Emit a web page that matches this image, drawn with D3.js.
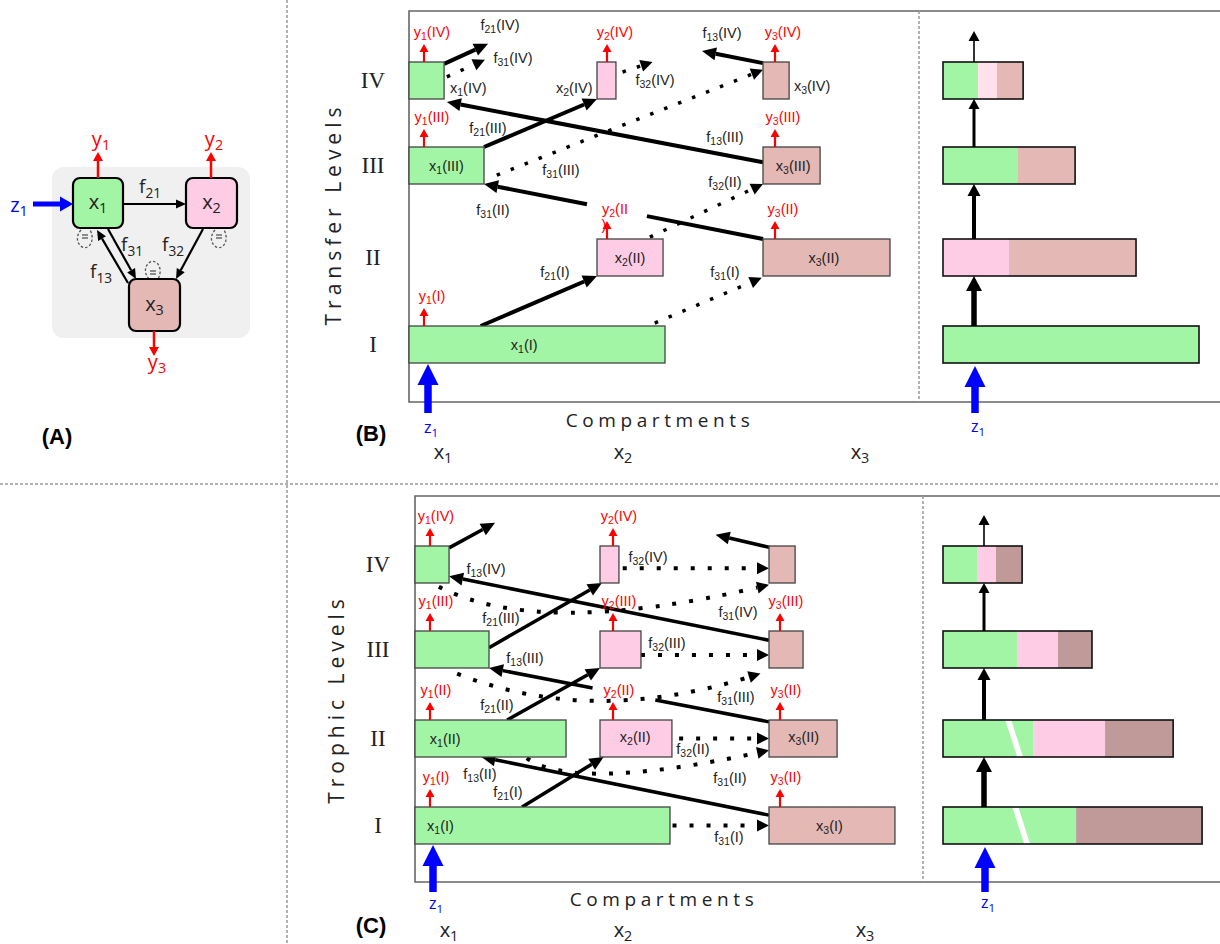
<!DOCTYPE html>
<html><head><meta charset="utf-8">
<script src="https://cdn.jsdelivr.net/npm/d3@7"></script>
<style>body{margin:0;background:#fff}svg{display:block}</style>
</head><body>
<script>
// ================= DATA =================
const levels = ["I", "II", "III", "IV"];
const compartments = ["x1", "x2", "x3"];
const compartmentTicks = ["x1", "x2", "x3"];

// Panel B – transfer levels: compartment sizes per level (relative units, x1(I) = 100)
const transferX1 = [100, null, 29.3, 13.7];
const transferX2 = [null, 25.8, null, 7.4];
const transferX3 = [null, 49.6, 22.3, 10.2];

// Panel C – trophic levels
const trophicX1 = [99.6, 59, 28.9, 13.3];
const trophicX2 = [null, 28.1, 16, 7.4];
const trophicX3 = [49.2, 26.6, 13.3, 10.2];
// width of the (truncated) x1 segment as drawn in the stacked trophic bars
const trophicX1Shown = [52, 35.2, null, null];

// flows
const transferFlowLabels = ["f21(I)", "f31(I)", "f21(III)", "f31(III)", "f13(III)", "f31(II)", "f32(II)", "f21(IV)", "f31(IV)", "f13(IV)", "f32(IV)"];
const transferFlowDotted = [false, true, false, true, false, false, true, false, true, false, true];
const trophicFlowLabels = ["", "f32(IV)", "", "f13(IV)", "f31(IV)", "f21(III)", "f32(III)", "f13(III)", "f31(III)", "f21(II)", "f32(II)", "f31(II)", "f13(II)", "f21(I)", "f31(I)"];
const trophicFlowDotted = [false, true, false, false, true, false, true, false, true, false, true, true, false, false, true];

// outflows [compartment, level, label]
const transferOutflows = [["x1", "I", "y1(I)"], ["x2", "II", "y2(II\n)"], ["x3", "II", "y3(II)"], ["x1", "III", "y1(III)"], ["x3", "III", "y3(III)"], ["x1", "IV", "y1(IV)"], ["x2", "IV", "y2(IV)"], ["x3", "IV", "y3(IV)"]];
const trophicOutflows = [["x1", "I", "y1(I)"], ["x3", "I", "y3(II)"], ["x1", "II", "y1(II)"], ["x2", "II", "y2(II)"], ["x3", "II", "y3(II)"], ["x1", "III", "y1(III)"], ["x2", "III", "y2(III)"], ["x3", "III", "y3(III)"], ["x1", "IV", "y1(IV)"], ["x2", "IV", "y2(IV)"]];

// Panel A
const panelANodes = ["x1", "x2", "x3"];
const panelAFlows = [["x1", "x2", "f21"], ["x1", "x3", "f31"], ["x3", "x1", "f13"], ["x2", "x3", "f32"]];
const panelAOutputs = ["y1", "y2", "y3"];
const panelAInput = "z1";

// ================= STYLE / LAYOUT =================
const GREEN = "#a2f5a4", PINK = "#ffcce6", ROSY = "#e3b8b5", BROWN = "#c09a98", LPINK = "#ffe1ec";
const RED = "#ff0000", BLUE = "#0000ff";
const compColor = d3.scaleOrdinal().domain(compartments).range([GREEN, PINK, ROSY]);
const W = d3.scaleLinear().domain([0, 100]).range([0, 256]);
const BOXH = 37;
const LABFONT = "'Liberation Sans Narrow','Arial Narrow','Liberation Sans',Arial,sans-serif";
const SANS = "'Open Sans','DejaVu Sans',sans-serif";

const svg = d3.select("body").append("svg").attr("width", 1220).attr("height", 944);

function rich(g, x, y, str, o = {}) {
  const fs = o.size || 14;
  const t = g.append("text").attr("x", x).attr("y", y)
    .attr("text-anchor", o.anchor || "middle").attr("dominant-baseline", "central")
    .attr("font-size", fs).attr("font-family", o.font || LABFONT).attr("fill", o.color || "#222");
  if (o.weight) t.attr("font-weight", o.weight);
  const m = str.match(/^([a-zA-Z])(\d+)(.*)$/);
  if (!m) { t.text(str); return t; }
  t.append("tspan").text(m[1]);
  t.append("tspan").attr("font-size", fs * 0.72).attr("dy", fs * 0.3).text(m[2]);
  if (m[3]) t.append("tspan").attr("dy", -fs * 0.3).text(m[3]);
  return t;
}

function arrow(g, x1, y1, x2, y2, o = {}) {
  const w = o.w || 2, hl = o.hl || 10, hw = o.hw || 10, color = o.color || "#000";
  const dx = x2 - x1, dy = y2 - y1, L = Math.hypot(dx, dy), ux = dx / L, uy = dy / L;
  const bx = x2 - ux * hl, by = y2 - uy * hl;
  const segs = o.gap ? [[0, o.gap[0]], [o.gap[1], 1]] : [[0, 1]];
  segs.forEach(([a, b]) => {
    const ex = b === 1 ? bx : x1 + dx * b, ey = b === 1 ? by : y1 + dy * b;
    const ln = g.append("line").attr("x1", x1 + dx * a).attr("y1", y1 + dy * a).attr("x2", ex).attr("y2", ey)
      .attr("stroke", color).attr("stroke-width", w);
    if (o.dash) ln.attr("stroke-dasharray", o.dash);
  });
  g.append("polygon").attr("points", [[x2, y2], [bx - uy * hw / 2, by + ux * hw / 2], [bx + uy * hw / 2, by - ux * hw / 2]].map(p => p.join(",")).join(" "))
    .attr("fill", color);
}

function curveArrow(g, s, m, e, o = {}) {
  const c = [2 * m[0] - (s[0] + e[0]) / 2, 2 * m[1] - (s[1] + e[1]) / 2];
  const hl = o.hl || 12, hw = o.hw || 12;
  const tx = e[0] - c[0], ty = e[1] - c[1], L = Math.hypot(tx, ty), ux = tx / L, uy = ty / L;
  const bx = e[0] - ux * hl, by = e[1] - uy * hl;
  const p = d3.path(); p.moveTo(s[0], s[1]); p.quadraticCurveTo(c[0], c[1], bx, by);
  g.append("path").attr("d", p.toString()).attr("fill", "none").attr("stroke", "#000")
    .attr("stroke-width", o.w || 3.5).attr("stroke-dasharray", o.dash);
  g.append("polygon").attr("points", [[e[0], e[1]], [bx - uy * hw / 2, by + ux * hw / 2], [bx + uy * hw / 2, by - ux * hw / 2]].map(p => p.join(",")).join(" "))
    .attr("fill", "#000");
}

// ================= SEPARATORS =================
svg.append("line").attr("x1", 287).attr("x2", 287).attr("y1", 0).attr("y2", 944)
  .attr("stroke", "#999").attr("stroke-width", 1.5).attr("stroke-dasharray", "3 2");
svg.append("line").attr("x1", 0).attr("x2", 1220).attr("y1", 484).attr("y2", 484)
  .attr("stroke", "#999").attr("stroke-width", 1.5).attr("stroke-dasharray", "3 2");

// ================= PANEL A =================
(function () {
  const g = svg.append("g");
  g.append("rect").attr("x", 52).attr("y", 167).attr("width", 198).attr("height", 171).attr("rx", 12).attr("fill", "#f0f0f0");
  const pos = { x1: [73, 178, 50, 50], x2: [186, 178, 51, 50], x3: [129, 279, 51, 52] };
  // self loops
  [[86, 238, 1], [220, 238, 1], [154, 271, -1]].forEach(([cx, cy, dir]) => {
    const p = d3.path();
    p.moveTo(cx - 5, cy - dir * 8);
    p.bezierCurveTo(cx - 14, cy + dir * 2, cx - 4, cy + dir * 14, cx + 3, cy + dir * 8);
    p.bezierCurveTo(cx + 8, cy + dir * 3, cx + 6, cy - dir * 5, cx + 4, cy - dir * 8);
    g.append("path").attr("d", p.toString()).attr("fill", "none").attr("stroke", "#555")
      .attr("stroke-width", 1.3).attr("stroke-dasharray", "2.5 2");
    g.append("line").attr("x1", cx - 4).attr("x2", cx + 2).attr("y1", cy - dir * 3).attr("y2", cy - dir * 3).attr("stroke", "#555").attr("stroke-width", 1.3);
    g.append("line").attr("x1", cx - 4).attr("x2", cx + 2).attr("y1", cy).attr("y2", cy).attr("stroke", "#555").attr("stroke-width", 1.3);
  });
  const fgeom = {
    f21: [[123, 204], [186, 204], [150, 186]],
    f31: [[108, 229], [136, 279], [132, 244]],
    f13: [[128, 283], [97, 230], [101, 271]],
    f32: [[203, 229], [176, 279], [173, 244]]
  };
  panelAFlows.forEach(([a, b, f]) => {
    const [s, e, l] = fgeom[f];
    arrow(g, s[0], s[1], e[0], e[1], { w: 2.2, hl: 10, hw: 9 });
    rich(g, l[0], l[1], f, { size: 19, font: SANS });
  });
  panelANodes.forEach(n => {
    const [x, y, w, h] = pos[n];
    g.append("rect").attr("x", x).attr("y", y).attr("width", w).attr("height", h).attr("rx", 7)
      .attr("fill", compColor(n)).attr("stroke", "#000").attr("stroke-width", 2.2);
    rich(g, x + w / 2, y + h / 2 - 2, n, { size: 20, font: SANS });
  });
  const ogeom = { y1: [98, 178, 152, 138], y2: [211, 178, 152, 138], y3: [154, 331, 356, 361] };
  panelAOutputs.forEach(o => {
    const [x, y0, y1, ly] = ogeom[o];
    arrow(g, x, y0, x, y1, { w: 2.5, hl: 9, hw: 10, color: RED });
    rich(g, x + 3, ly, o, { size: 20, font: SANS, color: RED });
  });
  arrow(g, 33, 204, 73, 204, { w: 5, hl: 13, hw: 15, color: BLUE });
  rich(g, 19, 204, panelAInput, { size: 20, font: SANS, color: BLUE });
  g.append("text").attr("x", 57).attr("y", 436).attr("text-anchor", "middle").attr("dominant-baseline", "central")
    .attr("font-size", 22).attr("font-weight", "bold").attr("font-family", "'Liberation Sans',Arial,sans-serif").text("(A)");
})();

// ================= PANELS B & C =================
function drawPanel(cfg) {
  const g = svg.append("g");
  const xS = d3.scaleOrdinal().domain(compartments).range(cfg.xStarts);
  const yS = d3.scaleOrdinal().domain(levels).range(cfg.yCenters);
  const arrs = { x1: cfg.a1, x2: cfg.a2, x3: cfg.a3 };
  const boxes = {};
  compartments.forEach(c => levels.forEach((l, i) => {
    const v = arrs[c][i];
    if (v != null) boxes[c + l] = { comp: c, level: l, x: xS(c), y: yS(l) - BOXH / 2, w: W(v), h: BOXH };
  }));
  const anc = (a) => { const b = boxes[a[0] + a[1]]; return [b.x + a[2] * b.w, b.y + a[3] * b.h]; };

  // frame
  const [ft, fl, fb, fd] = cfg.frame;
  g.append("path").attr("d", `M1220,${ft}H${fl}V${fb}H1220`).attr("fill", "none").attr("stroke", "#666").attr("stroke-width", 1.6);
  g.append("line").attr("x1", fd).attr("x2", fd).attr("y1", ft).attr("y2", fb).attr("stroke", "#999").attr("stroke-width", 1.5).attr("stroke-dasharray", "3 2");

  // axis-like labels
  g.append("text").attr("transform", `translate(${cfg.yTitle[0]},${cfg.yTitle[1]}) rotate(-90)`)
    .attr("text-anchor", "middle").attr("dominant-baseline", "central").attr("font-size", 21)
    .attr("letter-spacing", 5).attr("font-family", SANS).attr("fill", "#222").text(cfg.yTitleText);
  levels.forEach(l => {
    g.append("text").attr("x", cfg.romanX).attr("y", yS(l)).attr("text-anchor", "middle").attr("dominant-baseline", "central")
      .attr("font-size", 23).attr("font-family", "'Liberation Serif','Times New Roman',serif").attr("fill", "#222").text(l);
  });
  g.append("text").attr("x", cfg.xTitle[0]).attr("y", cfg.xTitle[1]).attr("text-anchor", "middle").attr("dominant-baseline", "central")
    .attr("font-size", 19).attr("letter-spacing", 4.6).attr("font-family", SANS).attr("fill", "#222").text("Compartments");
  const tickS = d3.scaleOrdinal().domain(compartmentTicks).range(cfg.tickX);
  compartmentTicks.forEach(c => rich(g, tickS(c), cfg.tickY, c, { size: 20, font: SANS }));
  g.append("text").attr("x", 371).attr("y", cfg.panelLabelY).attr("text-anchor", "middle").attr("dominant-baseline", "central")
    .attr("font-size", 22).attr("font-weight", "bold").attr("font-family", "'Liberation Sans',Arial,sans-serif").text(cfg.panelLabel);

  // flows
  const drawFlow = (i, dotted) => {
    const gm = cfg.geom[i];
    const s = anc(gm.from);
    const e = gm.to ? anc(gm.to) : [s[0] + gm.rel[0], s[1] + gm.rel[1]];
    const dash = dotted ? cfg.dash : null;
    if (gm.via) curveArrow(g, s, gm.via, e, { w: cfg.dotW, dash, hl: 12, hw: 12 });
    else arrow(g, s[0], s[1], e[0], e[1], { w: dotted ? cfg.dotW : cfg.solidW, hl: dotted ? 12 : 14, hw: dotted ? 12 : 13, dash, gap: gm.gap });
  };
  cfg.labels.forEach((_, i) => { if (!cfg.dotted[i]) drawFlow(i, false); });
  cfg.labels.forEach((_, i) => { if (cfg.dotted[i]) drawFlow(i, true); });

  // boxes
  Object.values(boxes).forEach(b => {
    g.append("rect").attr("x", b.x).attr("y", b.y).attr("width", b.w).attr("height", b.h)
      .attr("fill", compColor(b.comp)).attr("stroke", "#444").attr("stroke-width", 1.3);
  });
  cfg.boxLabels.forEach(([c, l, fx, fy]) => {
    const p = anc([c, l, fx, fy]);
    rich(g, p[0], p[1], `${c}(${l})`, { size: 14.5 });
  });
  cfg.labels.forEach((lab, i) => {
    if (lab && cfg.geom[i].lab) rich(g, cfg.geom[i].lab[0], cfg.geom[i].lab[1], lab, { size: 14.5 });
  });
  // outflows
  cfg.outflows.forEach(([c, l, lab]) => {
    const b = boxes[c + l];
    const x = b.x + cfg.outDx[compartments.indexOf(c)];
    arrow(g, x, b.y, x, b.y - 18, { w: 2.2, hl: 8, hw: 9, color: RED });
    const parts = lab.split("\n");
    rich(g, x + cfg.outLabDx, b.y - 30, parts[0], { size: 14.5, color: RED });
    if (parts[1]) g.append("text").attr("x", x - 3).attr("y", b.y - 14).attr("text-anchor", "middle").attr("dominant-baseline", "central")
      .attr("font-size", 14.5).attr("font-family", LABFONT).attr("fill", RED).text(parts[1]);
  });
  // z1 input
  arrow(g, cfg.zX, cfg.zY0, cfg.zX, cfg.zY1, { w: 7.5, hl: 21, hw: 21, color: BLUE });
  rich(g, cfg.zX + 3, cfg.zLabY, "z1", { size: 16, font: SANS, color: BLUE });

  // stacked bars (right part)
  const sx0 = 943;
  levels.forEach((l, i) => {
    const yc = yS(l), y = yc - BOXH / 2;
    let x = sx0;
    const segs = [];
    compartments.forEach((c, ci) => {
      const v = arrs[c][i];
      if (v == null) return;
      const shown = (ci === 0 && cfg.shown && cfg.shown[i] != null) ? cfg.shown[i] : v;
      segs.push({ x, w: W(shown), color: cfg.stackColor(c, l), broken: shown !== v });
      x += W(shown);
    });
    segs.forEach(s => g.append("rect").attr("x", s.x).attr("y", y).attr("width", s.w).attr("height", BOXH).attr("fill", s.color));
    segs.filter(s => s.broken).forEach(s => {
      const sx = s.x + s.w * (i === 0 ? 0.52 : 0.69);
      g.append("polygon").attr("points", [[sx, y], [sx + 6, y], [sx + 18, y + BOXH], [sx + 12, y + BOXH]].map(p => p.join(",")).join(" "))
        .attr("fill", "#fff");
    });
    g.append("rect").attr("x", sx0).attr("y", y).attr("width", x - sx0).attr("height", BOXH)
      .attr("fill", "none").attr("stroke", "#111").attr("stroke-width", 1.6);
  });
  const ax = cfg.stackArrowX;
  const aw = [5.5, 4, 3, 1.6], ah = [15, 12, 10, 10];
  levels.forEach((l, i) => {
    const y0 = yS(l) - BOXH / 2;
    const y1 = i < 3 ? yS(levels[i + 1]) + BOXH / 2 : y0 - 31;
    arrow(g, ax, y0, ax, y1, { w: aw[i], hl: ah[i], hw: ah[i] + 1 });
  });
  arrow(g, ax + 1, cfg.zY0, ax + 1, cfg.zY1 + 2, { w: 7.5, hl: 21, hw: 21, color: BLUE });
  rich(g, ax + 4, cfg.zLabY - 1, "z1", { size: 16, font: SANS, color: BLUE });
}

// Panel B
drawPanel({
  a1: transferX1, a2: transferX2, a3: transferX3,
  xStarts: [409, 597, 763], yCenters: [344.5, 257.5, 165.5, 80.5],
  frame: [11, 409, 402, 919],
  yTitle: [333, 214], yTitleText: "Transfer Levels", romanX: 373,
  xTitle: [660, 420], tickX: [443, 623, 860], tickY: 451,
  panelLabel: "(B)", panelLabelY: 433,
  labels: transferFlowLabels, dotted: transferFlowDotted,
  solidW: 4, dotW: 3.5, dash: "3.5 11.5",
  geom: [
    { from: ["x1", "I", 0.28, 0], to: ["x2", "II", 0, 1], lab: [555, 272] },
    { from: ["x1", "I", 0.96, -0.08], to: ["x3", "II", -0.01, 1.05], lab: [725, 272] },
    { from: ["x1", "III", 1, 0], to: ["x2", "IV", 0, 1], lab: [488, 128] },
    { from: ["x1", "III", 1.17, 0.76], to: ["x3", "IV", 0, 0.21], lab: [561, 170] },
    { from: ["x3", "III", 0, 0.41], to: ["x1", "IV", 1.08, 1.08], lab: [725, 137] },
    { from: ["x3", "II", 0, 0], to: ["x1", "III", 1, 1], lab: [493, 210], gap: [0.416, 0.631] },
    { from: ["x2", "II", 0.8, -0.05], to: ["x3", "III", 0, 1], lab: [725, 182] },
    { from: ["x1", "IV", 1, 0.05], rel: [44, -20], lab: [500, 25] },
    { from: ["x1", "IV", 1.08, 0.4], rel: [38, -17], lab: [513, 58] },
    { from: ["x3", "IV", 0, 0.03], rel: [-61, -12], lab: [722, 33] },
    { from: ["x2", "IV", 1.35, 0.27], rel: [30, -10], lab: [655, 80] }
  ],
  boxLabels: [["x1", "I", 0.45, 0.5], ["x2", "II", 0.5, 0.5], ["x3", "II", 0.48, 0.5], ["x1", "III", 0.5, 0.5], ["x3", "III", 0.53, 0.5],
    ["x1", "IV", 1.69, 0.7], ["x2", "IV", -1.2, 0.7], ["x3", "IV", 1.88, 0.65]],
  outflows: transferOutflows, outDx: [15, 10, 12], outLabDx: 8,
  zX: 428, zY0: 413, zY1: 364, zLabY: 427,
  stackColor: (c, l) => (c === "x2" && l === "IV") ? LPINK : compColor(c),
  stackArrowX: 974
});

// Panel C
drawPanel({
  a1: trophicX1, a2: trophicX2, a3: trophicX3, shown: trophicX1Shown,
  xStarts: [415, 600, 769], yCenters: [825.5, 738.5, 649.5, 564.5],
  frame: [496, 415, 882, 923],
  yTitle: [336, 699], yTitleText: "Trophic Levels", romanX: 378,
  xTitle: [664, 899], tickX: [449, 623, 865], tickY: 929,
  panelLabel: "(C)", panelLabelY: 925,
  labels: trophicFlowLabels, dotted: trophicFlowDotted,
  solidW: 3.5, dotW: 4, dash: "4 13",
  geom: [
    { from: ["x1", "IV", 1, 0.05], rel: [46, -25] },
    { from: ["x2", "IV", 1.2, 0.6], to: ["x3", "IV", 0, 0.6], lab: [648, 557] },
    { from: ["x3", "IV", 0.1, 0.05], rel: [-56, -13] },
    { from: ["x3", "III", 0, 0.25], to: ["x1", "IV", 1, 0.82], lab: [486, 569] },
    { from: ["x1", "IV", 0.7, 1.1], via: [571, 612], to: ["x3", "IV", 0, 1.05], lab: [738, 612] },
    { from: ["x1", "III", 1, 0.45], to: ["x2", "IV", 0.1, 1], lab: [501, 618] },
    { from: ["x2", "III", 1, 0.65], to: ["x3", "III", 0, 0.65], lab: [667, 643] },
    { from: ["x3", "II", 0, 0.05], to: ["x1", "III", 1, 1], lab: [525, 658], gap: [0.406, 0.63] },
    { from: ["x1", "III", 0.57, 1.15], via: [599, 700], to: ["x3", "III", -0.25, 1.15], lab: [736, 697] },
    { from: ["x1", "II", 0.61, 0], to: ["x2", "III", 0, 1], lab: [497, 705] },
    { from: ["x2", "II", 1.1, 0.5], to: ["x3", "II", 0, 0.5], lab: [693, 749] },
    { from: ["x1", "II", 0.74, 1.03], via: [611, 773], to: ["x3", "II", 0, 0.82], lab: [730, 778] },
    { from: ["x3", "I", 0, 0.22], to: ["x1", "II", 0.44, 1], lab: [480, 774] },
    { from: ["x1", "I", 0.42, 0], to: ["x2", "II", 0.05, 1], lab: [508, 792] },
    { from: ["x1", "I", 1.01, 0.5], to: ["x3", "I", 0, 0.5], lab: [729, 837] }
  ],
  boxLabels: [["x1", "I", 0.1, 0.5], ["x1", "II", 0.2, 0.5], ["x2", "II", 0.49, 0.45], ["x3", "II", 0.51, 0.45], ["x3", "I", 0.48, 0.5]],
  outflows: trophicOutflows, outDx: [15, 13, 11], outLabDx: 6,
  zX: 433, zY0: 892, zY1: 845, zLabY: 903,
  stackColor: (c) => c === "x3" ? BROWN : compColor(c),
  stackArrowX: 984
});
</script>
</body></html>
